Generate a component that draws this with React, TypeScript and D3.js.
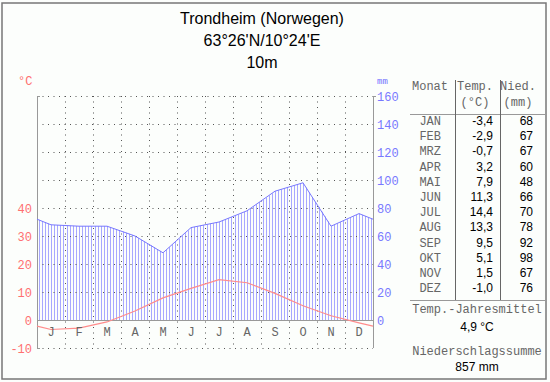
import React from "react";
import * as d3 from "d3";

const monthLetters = ["J", "F", "M", "A", "M", "J", "J", "A", "S", "O", "N", "D"];
const monthNames = ["JAN", "FEB", "MRZ", "APR", "MAI", "JUN", "JUL", "AUG", "SEP", "OKT", "NOV", "DEZ"];
const temps = [-3.4, -2.9, -0.7, 3.2, 7.9, 11.3, 14.4, 13.3, 9.5, 5.1, 1.5, -1.0];
const precip = [68, 67, 67, 60, 48, 66, 70, 78, 92, 98, 67, 76];
const tempTicks = [-10, 0, 10, 20, 30, 40];
const precipTicks = [0, 20, 40, 60, 80, 100, 120, 140, 160];
const gridTemps = [-10, 10, 20, 30, 40, 50, 60, 70, 80];
const titleLines = ["Trondheim (Norwegen)", "63°26'N/10°24'E", "10m"];
const annualTemp = "4,9 °C";
const annualPrecip = "857 mm";

const MONO = "'Liberation Mono', 'DejaVu Sans Mono', monospace";
const SANS = "'Liberation Sans', Arial, sans-serif";

const fmt = (v: number) => v.toFixed(1).replace(".", ",");

export default function App() {
  const x = d3.scaleLinear().domain([0, 12]).range([37, 373]);
  const yT = d3.scaleLinear().domain([-10, 80]).range([348, 96]);
  const yP = d3.scaleLinear().domain([0, 160]).range([320, 96]);

  const wrapT = (temps[11] + temps[0]) / 2;
  const wrapP = (precip[11] + precip[0]) / 2;
  const tPts: [number, number][] = [[0, wrapT], ...temps.map((v, i) => [i + 0.5, v] as [number, number]), [12, wrapT]];
  const pPts: [number, number][] = [[0, wrapP], ...precip.map((v, i) => [i + 0.5, v] as [number, number]), [12, wrapP]];

  const tLine = d3.line<[number, number]>().x((d) => x(d[0])).y((d) => yT(d[1]))(tPts) || "";
  const pLine = d3.line<[number, number]>().x((d) => x(d[0])).y((d) => yP(d[1]))(pPts) || "";

  const pInterp = d3.scaleLinear().domain(pPts.map((d) => d[0])).range(pPts.map((d) => d[1]));
  const hatch = d3.range(0, 108).map((k) => (k + 0.5) / 9);

  const rowY = (i: number) => 125 + i * 15.2;
  const txt = "#666";

  return (
    <svg width={550} height={382} style={{ position: "absolute", left: 0, top: 0, display: "block" }}>
      <rect x={0} y={0} width={550} height={382} fill="#fcfefc" />
      <rect x={2} y={3} width={544} height={376} fill="none" stroke="#777" strokeWidth={1.5} />

      {titleLines.map((t, i) => (
        <text key={i} x={262} y={24 + i * 22} textAnchor="middle" fontFamily={SANS} fontSize={16} fill="#000">
          {t}
        </text>
      ))}

      {/* hatching */}
      {hatch.map((m, k) => {
        const hx = Math.round(x(m)) + 0.5;
        return <line key={k} x1={hx} x2={hx} y1={yP(0)} y2={yP(pInterp(m))} stroke="#a8a8ff" strokeWidth={1} />;
      })}

      {/* grid */}
      {gridTemps.map((t) => (
        <line key={t} x1={x(0)} x2={x(12)} y1={yT(t) + 0.5} y2={yT(t) + 0.5} stroke="#555" strokeWidth={1} strokeDasharray="1,4.5" />
      ))}
      {d3.range(1, 12).map((m) => (
        <line key={m} x1={x(m) + 0.5} x2={x(m) + 0.5} y1={yT(80)} y2={yT(-10)} stroke="#555" strokeWidth={1} strokeDasharray="1,4.5" />
      ))}
      <line x1={x(0)} x2={x(12)} y1={yT(0) + 0.5} y2={yT(0) + 0.5} stroke="#999" strokeWidth={1} />

      {/* axes */}
      <line x1={x(0) + 0.5} x2={x(0) + 0.5} y1={yT(80)} y2={yT(-10)} stroke="#999" strokeWidth={1} />
      <line x1={x(0)} x2={x(0) + 3} y1={yT(80) + 0.5} y2={yT(80) + 0.5} stroke="#999" strokeWidth={1} />
      <line x1={x(0)} x2={x(0) + 3} y1={yT(-10) + 0.5} y2={yT(-10) + 0.5} stroke="#999" strokeWidth={1} />
      <line x1={x(12) + 0.5} x2={x(12) + 0.5} y1={yT(80)} y2={yT(-10)} stroke="#999" strokeWidth={1} />
      <line x1={x(12)} x2={x(12) + 3} y1={yT(80) + 0.5} y2={yT(80) + 0.5} stroke="#999" strokeWidth={1} />

      {/* curves */}
      <path d={pLine} fill="none" stroke="#7777ff" strokeWidth={1} />
      <path d={tLine} fill="none" stroke="#ff8c8c" strokeWidth={1.2} />

      {/* labels */}
      <text x={18} y={85} fontFamily={MONO} fontSize={12} fill="#ff7070">°C</text>
      <text x={377} y={84} fontFamily={MONO} fontSize={9} fill="#7070ff">mm</text>
      {tempTicks.map((t) => (
        <text key={t} x={32} y={yT(t) + 4.5} textAnchor="end" fontFamily={MONO} fontSize={12} fill="#ff7070">
          {t}
        </text>
      ))}
      {precipTicks.map((p) => (
        <text key={p} x={377} y={yP(p) + 4.5} fontFamily={MONO} fontSize={12} fill="#7878ff">
          {p}
        </text>
      ))}
      {monthLetters.map((l, i) => (
        <text key={i} x={x(i + 0.5)} y={336} textAnchor="middle" fontFamily={MONO} fontSize={12} fill={txt}>
          {l}
        </text>
      ))}

      {/* table */}
      <text x={412} y={90} fontFamily={MONO} fontSize={12} fill={txt}>Monat</text>
      <text x={475} y={90} textAnchor="middle" fontFamily={MONO} fontSize={12} fill={txt}>Temp.</text>
      <text x={475} y={106} textAnchor="middle" fontFamily={MONO} fontSize={12} fill={txt}>(°C)</text>
      <text x={518} y={90} textAnchor="middle" fontFamily={MONO} fontSize={12} fill={txt}>Nied.</text>
      <text x={518} y={106} textAnchor="middle" fontFamily={MONO} fontSize={12} fill={txt}>(mm)</text>
      <line x1={410} x2={545} y1={114.5} y2={114.5} stroke="#999" strokeWidth={1} />
      <line x1={455.5} x2={455.5} y1={80} y2={300} stroke="#666" strokeWidth={1} />
      <line x1={500.5} x2={500.5} y1={80} y2={300} stroke="#666" strokeWidth={1} />
      <line x1={410} x2={545} y1={300.5} y2={300.5} stroke="#999" strokeWidth={1} />
      {monthNames.map((n, i) => (
        <g key={n}>
          <text x={441} y={rowY(i)} textAnchor="end" fontFamily={MONO} fontSize={12} fill={txt}>{n}</text>
          <text x={493} y={rowY(i)} textAnchor="end" fontFamily={SANS} fontSize={12} fill="#000">{fmt(temps[i])}</text>
          <text x={533} y={rowY(i)} textAnchor="end" fontFamily={SANS} fontSize={12} fill="#000">{precip[i]}</text>
        </g>
      ))}
      <text x={477} y={313} textAnchor="middle" fontFamily={MONO} fontSize={12} fill={txt}>Temp.-Jahresmittel</text>
      <text x={477} y={331} textAnchor="middle" fontFamily={SANS} fontSize={12} fill="#000">{annualTemp}</text>
      <text x={477} y={355} textAnchor="middle" fontFamily={MONO} fontSize={12} fill={txt}>Niederschlagssumme</text>
      <text x={477} y={371} textAnchor="middle" fontFamily={SANS} fontSize={12} fill="#000">{annualPrecip}</text>
    </svg>
  );
}
